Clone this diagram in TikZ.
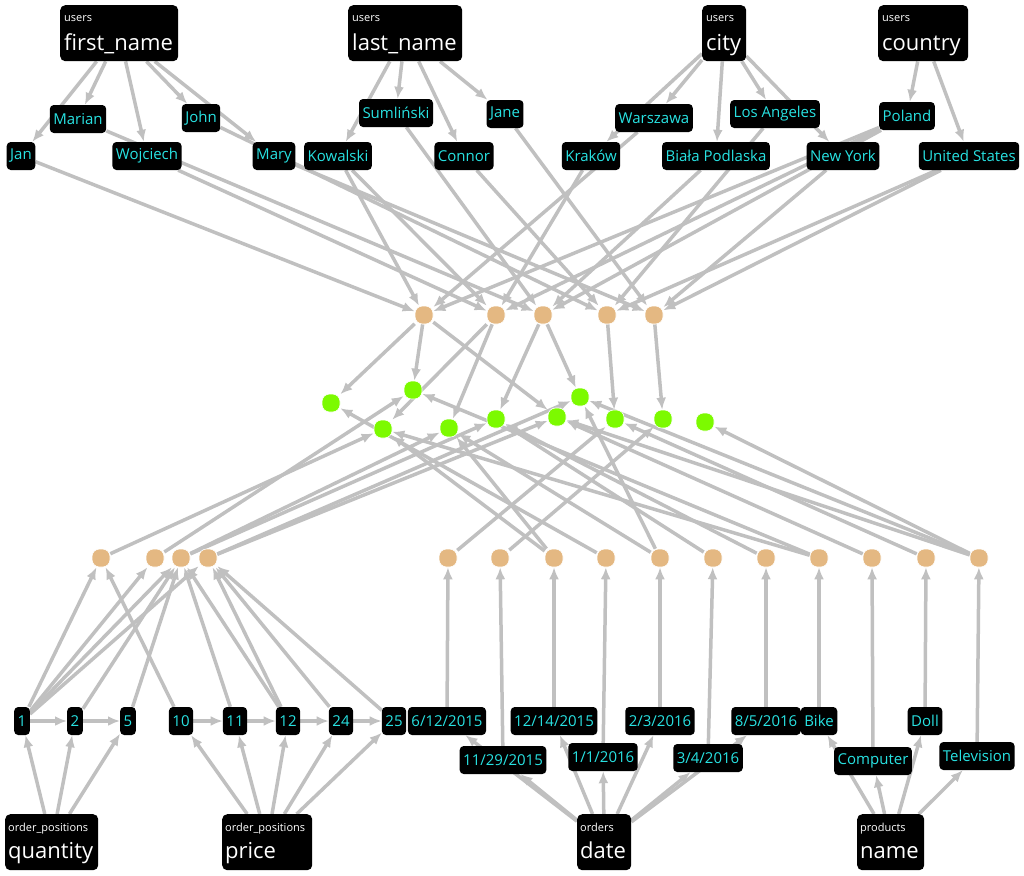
\documentclass[tikz,border=0pt]{standalone}
\usepackage{fontspec}
\setmainfont{Open Sans}
\usetikzlibrary{arrows.meta,backgrounds}
\definecolor{edgec}{RGB}{192,192,192}
\definecolor{tanc}{RGB}{228,184,130}
\definecolor{grnc}{RGB}{124,250,0}
\definecolor{cyn}{RGB}{40,226,226}
\begin{document}
\begin{tikzpicture}[x=1pt,y=-1pt,
 val/.style={fill=black, rounded corners=4pt, text=cyn, font=\fontsize{15}{17}\selectfont, inner xsep=3.5pt, inner ysep=0pt, minimum height=28pt},
 hdr/.style={fill=black, rounded corners=5pt, anchor=north west, minimum height=56pt, inner sep=0pt},
 small/.style={text=white, anchor=base west, inner sep=0pt, font=\fontsize{11}{12}\selectfont},
 big/.style={text=white, anchor=base west, inner sep=0pt, font=\fontsize{22}{24}\selectfont},
 tnode/.style={fill=tanc, draw=white, line width=0.6pt, rounded corners=7.5pt, minimum size=18pt, inner sep=0pt},
 gnode/.style={fill=grnc, draw=white, line width=0.6pt, rounded corners=7.5pt, minimum size=18pt, inner sep=0pt},
 edg/.style={draw=edgec, line width=3.5pt, -{Latex[length=12pt,width=10pt]}}
]
\useasboundingbox (0,0) rectangle (1024,875);
% headers
\node[hdr, minimum width=118pt] (fn) at (60,5) {};
\node[small] (fnA) at ([xshift=4pt,yshift=-17pt]fn.north west) {users};
\node[big] (fnB) at ([xshift=4pt,yshift=-45pt]fn.north west) {first\_name};
\node[hdr, minimum width=114pt] (ln) at (348,5) {};
\node[small] (lnA) at ([xshift=4pt,yshift=-17pt]ln.north west) {users};
\node[big] (lnB) at ([xshift=4pt,yshift=-45pt]ln.north west) {last\_name};
\node[hdr, minimum width=44pt] (city) at (702,5) {};
\node[small] (cityA) at ([xshift=4pt,yshift=-17pt]city.north west) {users};
\node[big] (cityB) at ([xshift=4pt,yshift=-45pt]city.north west) {city};
\node[hdr, minimum width=90pt] (country) at (878,5) {};
\node[small] (countryA) at ([xshift=4pt,yshift=-17pt]country.north west) {users};
\node[big] (countryB) at ([xshift=4pt,yshift=-45pt]country.north west) {country};

\node[hdr, minimum width=93pt] (qty) at (5,814) {};
\node[small] (qtyA) at ([xshift=3pt,yshift=-17pt]qty.north west) {order\_positions};
\node[big] (qtyB) at ([xshift=3pt,yshift=-44pt]qty.north west) {quantity};
\node[hdr, minimum width=90pt] (price) at (222,814) {};
\node[small] (priceA) at ([xshift=3pt,yshift=-17pt]price.north west) {order\_positions};
\node[big] (priceB) at ([xshift=3pt,yshift=-44pt]price.north west) {price};
\node[hdr, minimum width=54pt] (date) at (577,814) {};
\node[small] (dateA) at ([xshift=3pt,yshift=-17pt]date.north west) {orders};
\node[big] (dateB) at ([xshift=3pt,yshift=-44pt]date.north west) {date};
\node[hdr, minimum width=67pt] (name) at (857,814) {};
\node[small] (nameA) at ([xshift=3pt,yshift=-17pt]name.north west) {products};
\node[big] (nameB) at ([xshift=3pt,yshift=-44pt]name.north west) {name};

% top values
\node[val] (Marian) at (78,119) {Marian};
\node[val] (John) at (201,118) {John};
\node[val] (Jan) at (21,156) {Jan};
\node[val] (Wojciech) at (147,156) {Wojciech};
\node[val] (Mary) at (274,156) {Mary};
\node[val] (Kowalski) at (338,156) {Kowalski};
\node[val] (Sumlinski) at (396,113) {Sumliński};
\node[val] (Jane) at (505,114) {Jane};
\node[val] (Connor) at (464,156) {Connor};
\node[val] (Warszawa) at (654,118) {Warszawa};
\node[val] (Krakow) at (591,156) {Kraków};
\node[val] (LosAngeles) at (775,114) {Los Angeles};
\node[val] (Biala) at (716,156) {Biała Podlaska};
\node[val] (Poland) at (907,116) {Poland};
\node[val] (NewYork) at (843,156) {New York};
\node[val] (US) at (969,156) {United States};

% user row
\foreach \n/\x in {T1/424,T2/496,T3/543,T4/607,T5/654}
  \node[tnode] (\n) at (\x,315) {};
% green row
\foreach \n/\x/\y in {G1/331/403,G2/413/390,G3/383/429,G4/449/428,G5/496/419,G6/557/417,G7/580/397,G8/615/419,G9/663/419,G10/705/422}
  \node[gnode] (\n) at (\x,\y) {};
% bottom tan row
\foreach \n/\x in {B1/101,B2/155,B3/181,B4/208,B5/448,B6/500,B7/554,B8/606,B9/660,B10/713,B11/766,B12/819,B13/872,B14/926,B15/979}
  \node[tnode] (\n) at (\x,558) {};

% bottom values
\node[val] (v1) at (22,721) {1};
\node[val] (v2) at (75,721) {2};
\node[val] (v5) at (128,721) {5};
\node[val] (v10) at (181,721) {10};
\node[val] (v11) at (235,721) {11};
\node[val] (v12) at (288,721) {12};
\node[val] (v24) at (341,721) {24};
\node[val] (v25) at (394,721) {25};
\node[val] (d1) at (447,721) {6/12/2015};
\node[val] (d2) at (503,760) {11/29/2015};
\node[val] (d3) at (554,721) {12/14/2015};
\node[val] (d4) at (603,757) {1/1/2016};
\node[val] (d5) at (660,721) {2/3/2016};
\node[val] (d6) at (708,758) {3/4/2016};
\node[val] (d7) at (766,721) {8/5/2016};
\node[val] (Bike) at (819,721) {Bike};
\node[val] (Computer) at (873,761) {Computer};
\node[val] (Doll) at (925,721) {Doll};
\node[val] (Television) at (977,756) {Television};

\begin{scope}[on background layer]
\foreach \a/\b in {fn/Jan,fn/Marian,fn/Wojciech,fn/John,fn/Mary,
  ln/Kowalski,ln/Sumlinski,ln/Connor,ln/Jane,
  city/Warszawa,city/Krakow,city/Biala,city/LosAngeles,city/NewYork,
  country/Poland,country/US,
  Jan/T1,Kowalski/T1,Warszawa/T1,Poland/T1,
  Wojciech/T2,Kowalski/T2,Krakow/T2,Poland/T2,
  Marian/T3,Sumlinski/T3,Biala/T3,Poland/T3,
  John/T4,Connor/T4,LosAngeles/T4,US/T4,
  Mary/T5,Jane/T5,NewYork/T5,US/T5,
  T1/G1,T1/G2,T1/G6,T2/G3,T2/G4,T3/G5,T3/G7,T4/G8,T5/G9,
  B1/G3,B2/G2,B3/G4,B3/G5,B4/G6,B4/G7,B5/G8,B6/G9,B7/G3,B7/G4,B8/G1,
  B9/G4,B9/G7,B10/G5,B11/G5,B12/G2,B12/G3,B13/G6,B14/G8,B15/G10,B15/G7,B15/G6,
  qty/v1,qty/v2,qty/v5,price/v10,price/v11,price/v12,price/v24,price/v25,
  v1/v2,v2/v5,v10/v11,v11/v12,v12/v24,v24/v25,
  v1/B1,v1/B2,v1/B3,v1/B4,v2/B3,v5/B3,v10/B1,v11/B3,v12/B3,v12/B4,v24/B4,v25/B4,
  date/d1,date/d2,date/d3,date/d4,date/d5,date/d6,date/d7,
  name/Bike,name/Computer,name/Doll,name/Television,
  d1/B5,d2/B6,d3/B7,d4/B8,d5/B9,d6/B10,d7/B11,Bike/B12,Computer/B13,Doll/B14,Television/B15}
  \draw[edg] (\a) -- (\b);
\end{scope}
\end{tikzpicture}
\end{document}
